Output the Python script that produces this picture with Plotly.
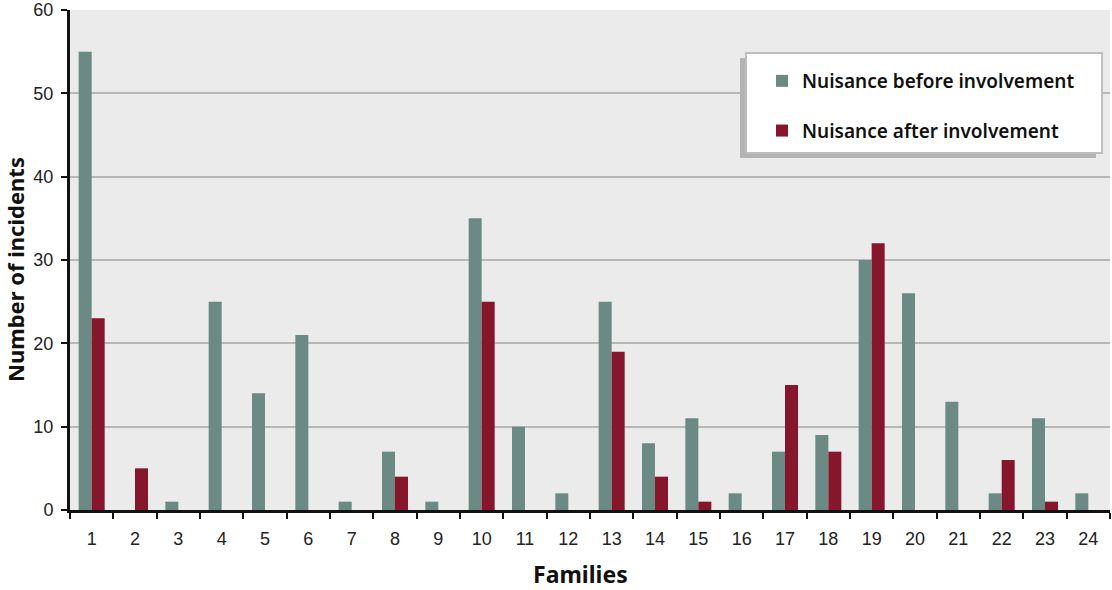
import plotly.graph_objects as go

families = [str(i) for i in range(1, 25)]
before = [55, 0, 1, 25, 14, 21, 1, 7, 1, 35, 10, 2, 25, 8, 11, 2, 7, 9, 30, 26, 13, 2, 11, 2]
after = [23, 5, 0, 0, 0, 0, 0, 4, 0, 25, 0, 0, 19, 4, 1, 0, 15, 7, 32, 0, 0, 6, 1, 0]
y_ticks = [0, 10, 20, 30, 40, 50, 60]

L, R, T, B = 70, 2, 10, 80
W, H = 1112, 590
pw, ph = W - L - R, H - T - B

def px(x):
    return (x - L) / pw

def py(y):
    return (H - B - y) / ph

fig = go.Figure()
fig.add_trace(go.Bar(x=families, y=before, name="Nuisance before involvement",
                     marker=dict(color="#6a8a83", line=dict(width=0)), legendgroup="a"))
fig.add_trace(go.Bar(x=families, y=after, name="Nuisance after involvement",
                     marker=dict(color="#86162b", line=dict(width=0)), legendgroup="b"))

shapes = [
    dict(type="rect", xref="paper", yref="paper", x0=px(740), x1=px(1096), y0=py(158), y1=py(58),
         fillcolor="#b3b3b3", line=dict(width=0), layer="above"),
    dict(type="rect", xref="paper", yref="paper", x0=px(746), x1=px(1102), y0=py(153), y1=py(53),
         fillcolor="white", line=dict(color="#bdbdbd", width=2), layer="above"),
]

title_font = dict(family="Noto Sans", size=22, color="#111", weight=700)
annotations = [
    dict(text="Number of incidents", xref="paper", yref="paper", x=px(15), y=py(270),
         xanchor="center", yanchor="middle", textangle=-90, showarrow=False, font=title_font),
    dict(text="Families", xref="paper", yref="paper", x=px(580), y=py(574),
         xanchor="center", yanchor="middle", showarrow=False, font=dict(title_font, size=23)),
]

fig.update_layout(
    width=W, height=H,
    margin=dict(l=L, r=R, t=T, b=B, pad=0, autoexpand=False),
    paper_bgcolor="white",
    plot_bgcolor="#ebebeb",
    barmode="group",
    bargap=0.4,
    bargroupgap=0,
    shapes=shapes,
    annotations=annotations,
    showlegend=True,
    legend=dict(x=px(762), y=py(62), xanchor="left", yanchor="top",
                bgcolor="rgba(0,0,0,0)", borderwidth=0,
                font=dict(family="Noto Sans", size=19, color="#111", weight=600),
                tracegroupgap=22, traceorder="grouped"),
    font=dict(family="Liberation Sans Narrow, Liberation Sans, Arial", color="#222"),
    xaxis=dict(
        type="category", tickson="boundaries", ticks="outside", ticklen=6, tickwidth=2,
        tickcolor="#111", showline=True, linecolor="#111", linewidth=3, showgrid=False,
        tickfont=dict(size=18, color="#222"), ticklabelstandoff=10, automargin=False,
        range=[-0.5, 23.5], zeroline=False,
    ),
    yaxis=dict(
        range=[0, 60], tickvals=y_ticks, ticks="outside", ticklen=6, tickwidth=2, tickcolor="#111",
        showline=True, linecolor="#111", linewidth=3, showgrid=True, gridcolor="#b7b7b7", gridwidth=2,
        tickfont=dict(size=18, color="#222"), zeroline=False, automargin=False, ticklabelstandoff=4,
        ticklabeloverflow="allow",
    ),
)

fig.write_html("out.html", config={"displayModeBar": False},
               post_script="document.body.style.margin='0';document.body.style.overflow='hidden';")
